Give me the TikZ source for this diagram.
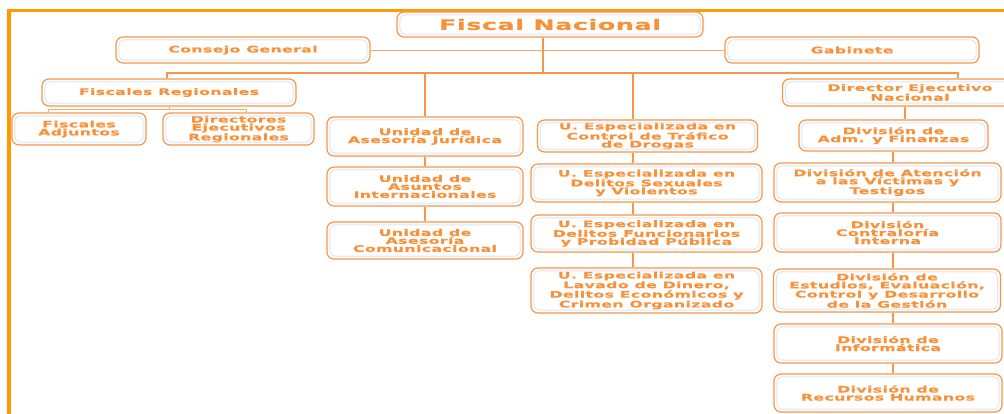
\documentclass[tikz,border=0pt]{standalone}
\usepackage{fontspec}
\usepackage{tikz}
\usetikzlibrary{calc}

\newfontfamily\orgfont{DejaVu Sans Bold}[FakeStretch=1.75,LetterSpace=4,FakeBold=0.6]
\definecolor{orgline}{HTML}{F79646}
\definecolor{orgtext}{HTML}{F7923A}
\definecolor{orginner}{HTML}{DCE6F4}
\definecolor{orgframe}{HTML}{FF9A00}

\begin{document}
\begin{tikzpicture}[x=1pt, y=-1pt,
    unit/.style={draw=orgline, line width=1.2pt, rounded corners=7pt, fill=white,
        text=orgtext, align=center, inner sep=0pt,
        font=\orgfont\fontsize{9}{8}\selectfont},
    conn/.style={draw=orgline, line width=1.6pt},
    thinconn/.style={draw=orgline!80, line width=0.9pt},
    inner/.style={draw=orginner, line width=1pt, rounded corners=5pt}]
    \clip (0,0) rectangle (1004,414);

    % Frame
    \draw[orgframe, line width=3.6pt] (9.2,420) -- (9.2,10.5) -- (1010,10.5);

    % Top level
    \node[unit, minimum width=306pt, minimum height=25pt,
          font=\orgfont\fontsize{14.5}{14}\selectfont] (fn) at (550,24.5) {Fiscal Nacional};
    \node[unit, minimum width=254pt, minimum height=26pt] (cg) at (243,50) {Consejo General};
    \node[unit, minimum width=254pt, minimum height=26pt] (gab) at (852,50) {Gabinete};

    % Second level
    \node[unit, minimum width=254pt, minimum height=27pt] (freg) at (169,92.5) {Fiscales Regionales};
    \node[unit, minimum width=134pt, minimum height=32pt] (fadj) at (79,129) {Fiscales\\Adjuntos};
    \node[unit, minimum width=151pt, minimum height=32pt] (dreg) at (238.5,129) {Directores\\Ejecutivos\\Regionales};
    \node[unit, minimum width=255pt, minimum height=27pt] (dir) at (910,92.5) {Director Ejecutivo\\Nacional};

    % Unidades
    \node[unit, minimum width=196pt, minimum height=39pt] (ajur) at (425,136.5) {Unidad de\\Asesoría Jurídica};
    \node[unit, minimum width=196pt, minimum height=39pt] (aint) at (425,186.5) {Unidad de\\Asuntos\\Internacionales};
    \node[unit, minimum width=196pt, minimum height=37pt] (acom) at (425,240.5) {Unidad de\\Asesoría\\Comunicacional};

    % Unidades especializadas
    \node[unit, minimum width=220pt, minimum height=32pt] (udrog) at (647.5,136) {U. Especializada en\\Control de Tráfico\\de Drogas};
    \node[unit, minimum width=231pt, minimum height=38pt] (usex) at (646.5,183) {U. Especializada en\\Delitos Sexuales\\y Violentos};
    \node[unit, minimum width=231pt, minimum height=37pt] (ufun) at (646.5,233.5) {U. Especializada en\\Delitos Funcionarios\\y Probidad Pública};
    \node[unit, minimum width=231pt, minimum height=45pt] (ulav) at (646.5,290.5) {U. Especializada en\\Lavado de Dinero,\\Delitos Económicos y\\Crimen Organizado};

    % Divisiones
    \node[unit, minimum width=189pt, minimum height=31pt] (dadm) at (893.5,135.5) {División de\\Adm. y Finanzas};
    \node[unit, minimum width=227pt, minimum height=39pt] (date) at (887.5,182.5) {División de Atención\\a las Víctimas y\\Testigos};
    \node[unit, minimum width=227pt, minimum height=39pt] (dcon) at (887.5,232.5) {División\\Contraloría\\Interna};
    \node[unit, minimum width=227pt, minimum height=43pt] (dest) at (887,290.5) {División de\\Estudios, Evaluación,\\Control y Desarrollo\\de la Gestión};
    \node[unit, minimum width=228pt, minimum height=39pt] (dinf) at (888,343.5) {División de\\Informática};
    \node[unit, minimum width=228pt, minimum height=38pt] (drh) at (888,393) {División de\\Recursos Humanos};

    % Inner lines
    \foreach \n in {fn,cg,gab,freg,fadj,dreg,dir,ajur,aint,acom,udrog,usex,ufun,ulav,dadm,date,dcon,dest,dinf,drh}
        \draw[inner] ($(\n.south west)+(3.5pt,3.5pt)$) rectangle ($(\n.north east)+(-3.5pt,-3.5pt)$);

    % Bus coordinates
    \coordinate (bl) at (167,73);
    \coordinate (br) at (958,73);
    \coordinate (ux) at (633,73);
    \coordinate (fl) at (48,109.5);
    \coordinate (fr) at (246.5,109.5);
    \coordinate (dx) at (893,0);
    \coordinate (dtop) at (905,0);

    % Edges
    \draw[thinconn] (cg.east) -- (gab.west);
    \draw[conn] (fn.south -| 543,0) -- (bl -| 543,0);
    \draw[conn] (freg.north -| bl) -- (bl) -- (br) -- (br |- dir.north);
    \draw[conn] (ajur.north) -- (ajur.north |- bl);
    \draw[conn] (ux) -- (udrog.north -| ux);
    \draw[thinconn] (freg.south) -- (freg.south |- fl);
    \draw[thinconn] (fadj.north -| fl) |- (fr) -- (dreg.north -| fr);
    \draw[conn] (ajur) -- (aint);
    \draw[conn] (aint) -- (acom);
    \draw[conn] (udrog.south -| ux) -- (usex.north -| ux);
    \draw[conn] (usex.south -| ux) -- (ufun.north -| ux);
    \draw[conn] (ufun.south -| ux) -- (ulav.north -| ux);
    \draw[conn] (dir.south -| dtop) -- (dadm.north -| dtop);
    \draw[conn] (dadm.south -| dx) -- (date.north -| dx);
    \draw[conn] (date.south -| dx) -- (dcon.north -| dx);
    \draw[conn] (dcon.south -| dx) -- (dest.north -| dx);
    \draw[conn] (dest.south -| dx) -- (dinf.north -| dx);
    \draw[conn] (dinf.south -| dx) -- (drh.north -| dx);
\end{tikzpicture}
\end{document}
